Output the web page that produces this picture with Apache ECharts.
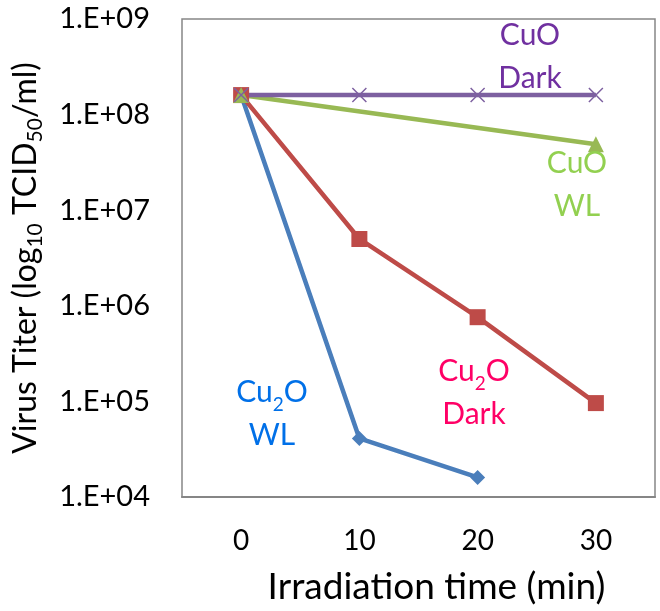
<!DOCTYPE html>
<html>
<head>
<meta charset="utf-8">
<script src="https://cdn.jsdelivr.net/npm/echarts@6/dist/echarts.min.js"></script>
<style>
  html, body { margin: 0; padding: 0; background: #fff; }
  #chart { width: 660px; height: 611px; }
</style>
</head>
<body>
<div id="chart"></div>
<script>
const times = ['0', '10', '20', '30']
const yTickLabels = ['1.E+04', '1.E+05', '1.E+06', '1.E+07', '1.E+08', '1.E+09']

// virus titer, TCID50/ml
const cu2oWL = [1.6e8, 4.1e4, 1.6e4, null]
const cu2oDark = [1.6e8, 5.0e6, 7.6e5, 9.6e4]
const cuoWL = [1.6e8, null, null, 4.9e7]
const cuoDark = [1.6e8, 1.6e8, 1.6e8, 1.6e8]

const FONT = 'Lato'
const chart = echarts.init(document.getElementById('chart'))

const label = (text, color, x, y) => ({
  type: 'text',
  x: x,
  y: y,
  z: 10,
  style: {
    text: text,
    fill: color,
    font: '30px ' + FONT,
    align: 'center',
    verticalAlign: 'middle',
    rich: {
      n: { fontSize: 30, fontFamily: FONT, lineHeight: 43, fill: color },
      sub: { fontSize: 19, fontFamily: FONT, verticalAlign: 'bottom', lineHeight: 40, fill: color }
    }
  }
})

const option = {
  animation: false,
  grid: {
    left: 182,
    right: 5,
    top: 19,
    bottom: 109,
    show: true,
    borderColor: '#868686',
    borderWidth: 1.5
  },
  xAxis: {
    type: 'category',
    data: times,
    boundaryGap: true,
    name: 'Irradiation time (min)',
    nameLocation: 'middle',
    nameGap: 72,
    nameTextStyle: { fontFamily: FONT, fontSize: 37, color: '#000', padding: [0, 0, 0, 36] },
    axisLine: { lineStyle: { color: '#868686', width: 2 } },
    axisTick: { inside: true, length: 10, lineStyle: { color: '#868686', width: 1.5 } },
    axisLabel: { fontFamily: FONT, fontSize: 28, color: '#000', margin: 30 },
    splitLine: { show: false }
  },
  yAxis: {
    type: 'log',
    logBase: 10,
    min: 1e4,
    max: 1e9,
    name: 'Virus Titer (log{sub|10} TCID{sub|50}/ml)',
    nameLocation: 'middle',
    nameRotate: 90,
    nameGap: 136,
    nameTextStyle: {
      fontFamily: FONT,
      fontSize: 32,
      color: '#000',
      rich: {
        sub: { fontFamily: FONT, fontSize: 21, verticalAlign: 'bottom', lineHeight: 40, color: '#000' }
      }
    },
    axisLine: { lineStyle: { color: '#868686', width: 2 } },
    axisTick: { inside: true, length: 10, lineStyle: { color: '#868686', width: 1.5 } },
    axisLabel: {
      fontFamily: FONT,
      fontSize: 29,
      color: '#000',
      margin: 32,
      formatter: v => yTickLabels[Math.round(Math.log10(v)) - 4]
    },
    splitLine: { show: false }
  },
  series: [
    {
      name: 'Cu2O WL',
      type: 'line',
      data: cu2oWL,
      symbol: 'diamond',
      symbolSize: 15,
      itemStyle: { color: '#4a7ebb' },
      lineStyle: { width: 4.5 }
    },
    {
      name: 'Cu2O Dark',
      type: 'line',
      data: cu2oDark,
      symbol: 'rect',
      symbolSize: 16,
      itemStyle: { color: '#be4b48' },
      lineStyle: { width: 4.5 }
    },
    {
      name: 'CuO WL',
      type: 'line',
      data: cuoWL,
      connectNulls: true,
      symbol: 'triangle',
      symbolSize: 16,
      itemStyle: { color: '#98b954' },
      lineStyle: { width: 4.5 }
    },
    {
      name: 'CuO Dark',
      type: 'line',
      data: cuoDark,
      symbol: 'path://M0,0L10,10M10,0L0,10',
      symbolSize: 14,
      itemStyle: { color: '#7d60a0', borderColor: '#7d60a0', borderWidth: 1.5 },
      lineStyle: { width: 4.5 }
    }
  ],
  graphic: [
    label('{n|CuO}\n{n|Dark}', '#7030a0', 530, 57),
    label('{n|CuO}\n{n|WL}', '#92d050', 577, 185),
    label('{n|Cu}{sub|2}{n|O}\n{n|Dark}', '#ff0066', 474, 393),
    label('{n|Cu}{sub|2}{n|O}\n{n|WL}', '#0070e8', 272, 414)
  ]
}

chart.setOption(option)
window.addEventListener('resize', () => chart.resize())
</script>
</body>
</html>
